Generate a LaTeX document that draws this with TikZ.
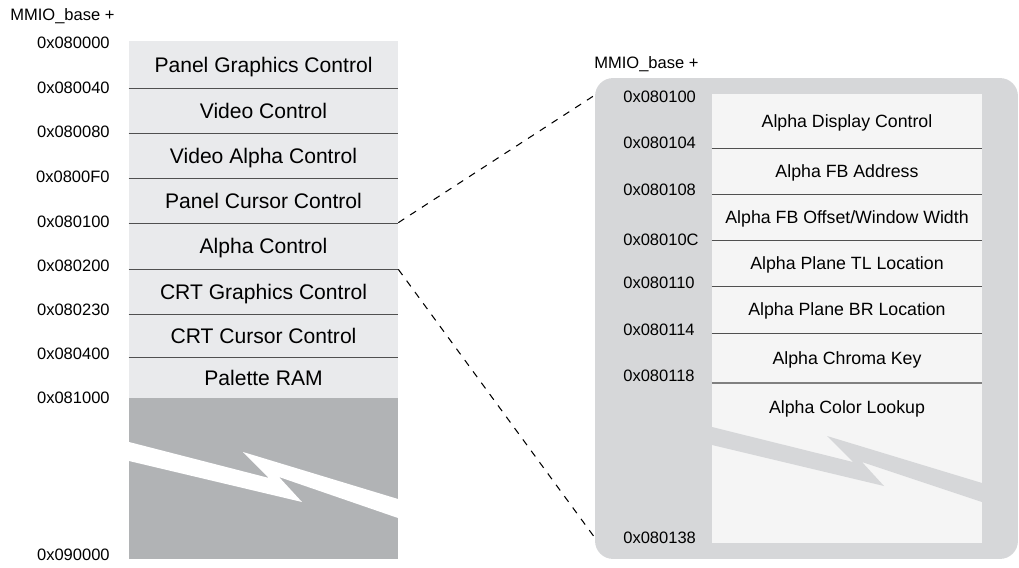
\documentclass[tikz,border=0pt]{standalone}
\usepackage{fontspec}
\setmainfont{Liberation Sans}

\definecolor{colfill}{RGB}{233,234,236}
\definecolor{gapgray}{RGB}{177,179,181}
\definecolor{panelgray}{RGB}{214,215,217}
\definecolor{innerfill}{RGB}{245,245,245}
\definecolor{sepgray}{RGB}{80,80,80}

\tikzset{
  lrow/.style={minimum width=5.38cm, inner sep=0pt, font=\fontsize{12}{14}\selectfont, text height=8.6pt, text depth=0pt},
  rrow/.style={minimum width=5.4cm, inner sep=0pt, font=\fontsize{10.1}{12}\selectfont, text height=7.2pt, text depth=0pt},
  addr/.style={inner sep=0pt, font=\fontsize{9.4}{11}\selectfont, text height=6.7pt, text depth=0pt},
  sepline/.style={draw=sepgray, line width=0.6pt},
  zoomline/.style={black, line width=0.6pt, dash pattern=on 4pt off 4pt},
}

\begin{document}
\begin{tikzpicture}[x=0.02cm,y=-0.02cm]
        \useasboundingbox (0,0) rectangle (1019,568);
        % left memory map
        \fill[colfill] (129,41) rectangle (398,398);
        \fill[gapgray] (129,398) rectangle (398,559); % unused range
        \fill[white] (129,442) -- (269,478) -- (243,452) -- (398,499) -- (398,518)
        -- (279,477) -- (302,502) -- (129,461) -- cycle; % break mark
        \node[lrow, minimum height=0.94cm] (pgc) at (263.5,64.5) {Panel Graphics Control};
        \node[lrow, minimum height=0.9cm] (vc) at (263.5,110.5) {Video Control};
        \node[lrow, minimum height=0.9cm] (vac) at (263.5,155.5) {Video Alpha Control};
        \node[lrow, minimum height=0.9cm] (pcc) at (263.5,200.5) {Panel Cursor Control};
        \node[lrow, minimum height=0.92cm] (ac) at (263.5,246) {Alpha Control};
        \node[lrow, minimum height=0.9cm] (cgc) at (263.5,291.5) {CRT Graphics Control};
        \node[lrow, minimum height=0.86cm] (ccc) at (263.5,335.5) {CRT Cursor Control};
        \node[lrow, minimum height=0.82cm] (pram) at (263.5,377.5) {Palette RAM};
        \foreach \r in {pgc,vc,vac,pcc,ac,cgc,ccc}
        \draw[sepline] (\r.south west) -- (\r.south east); % row borders
        % left addresses
        \node[addr, anchor=west] (lbase) at (10,15) {MMIO\_base +};
        \node[addr, anchor=east] (la0) at (110,43) {0x080000};
        \node[addr, anchor=east] (la1) at (110,88) {0x080040};
        \node[addr, anchor=east] (la2) at (110,132) {0x080080};
        \node[addr, anchor=east] (la3) at (110,177) {0x0800F0};
        \node[addr, anchor=east] (la4) at (110,222) {0x080100};
        \node[addr, anchor=east] (la5) at (110,266) {0x080200};
        \node[addr, anchor=east] (la6) at (110,310) {0x080230};
        \node[addr, anchor=east] (la7) at (110,354) {0x080400};
        \node[addr, anchor=east] (la8) at (110,398) {0x081000};
        \node[addr, anchor=east] (la9) at (110,555) {0x090000};
        % zoomed alpha registers
        \node[fill=panelgray, rounded corners=0.36cm, minimum width=8.46cm,
        minimum height=9.62cm, inner sep=0pt] (panel) at (806.5,318.5) {};
        \fill[innerfill] (712,94) rectangle (982,543);
        \fill[panelgray] (712,427) -- (853,462) -- (827,436) -- (982,483) -- (982,502)
        -- (862,462) -- (884,486) -- (712,445) -- cycle; % break mark
        \node[rrow, minimum height=1.08cm] (adc) at (847,121) {Alpha Display Control};
        \node[rrow, minimum height=0.92cm] (afa) at (847,171) {Alpha FB Address};
        \node[rrow, minimum height=0.92cm] (afo) at (847,217) {Alpha FB Offset/Window Width};
        \node[rrow, minimum height=0.92cm] (ptl) at (847,263) {Alpha Plane TL Location};
        \node[rrow, minimum height=0.94cm] (pbr) at (847,309.5) {Alpha Plane BR Location};
        \node[rrow, minimum height=1cm] (ack) at (847,358) {Alpha Chroma Key};
        \node[rrow] (acl) at (847,407) {Alpha Color Lookup};
        \foreach \r in {adc,afa,afo,ptl,pbr}
        \draw[sepline] (\r.south west) -- (\r.south east); % row borders
        \draw[sepline, draw=gray, line width=1pt] (ack.south west) -- (ack.south east);
        % right addresses
        \node[addr, anchor=west] (rbase) at (594,63) {MMIO\_base +};
        \node[addr, anchor=west] (ra0) at (623,97) {0x080100};
        \node[addr, anchor=west] (ra1) at (623,143) {0x080104};
        \node[addr, anchor=west] (ra2) at (623,190) {0x080108};
        \node[addr, anchor=west] (ra3) at (623,240) {0x08010C};
        \node[addr, anchor=west] (ra4) at (623,283) {0x080110};
        \node[addr, anchor=west] (ra5) at (623,330) {0x080114};
        \node[addr, anchor=west] (ra6) at (623,376) {0x080118};
        \node[addr, anchor=west] (ra7) at (623,538) {0x080138};
        % zoom lines
        \coordinate (ztop) at (595,95);
        \coordinate (zbot) at (595,538);
        \draw[zoomline] (ac.north east) -- (ztop);
        \draw[zoomline] (ac.south east) -- (zbot);
    \end{tikzpicture}
\end{document}
